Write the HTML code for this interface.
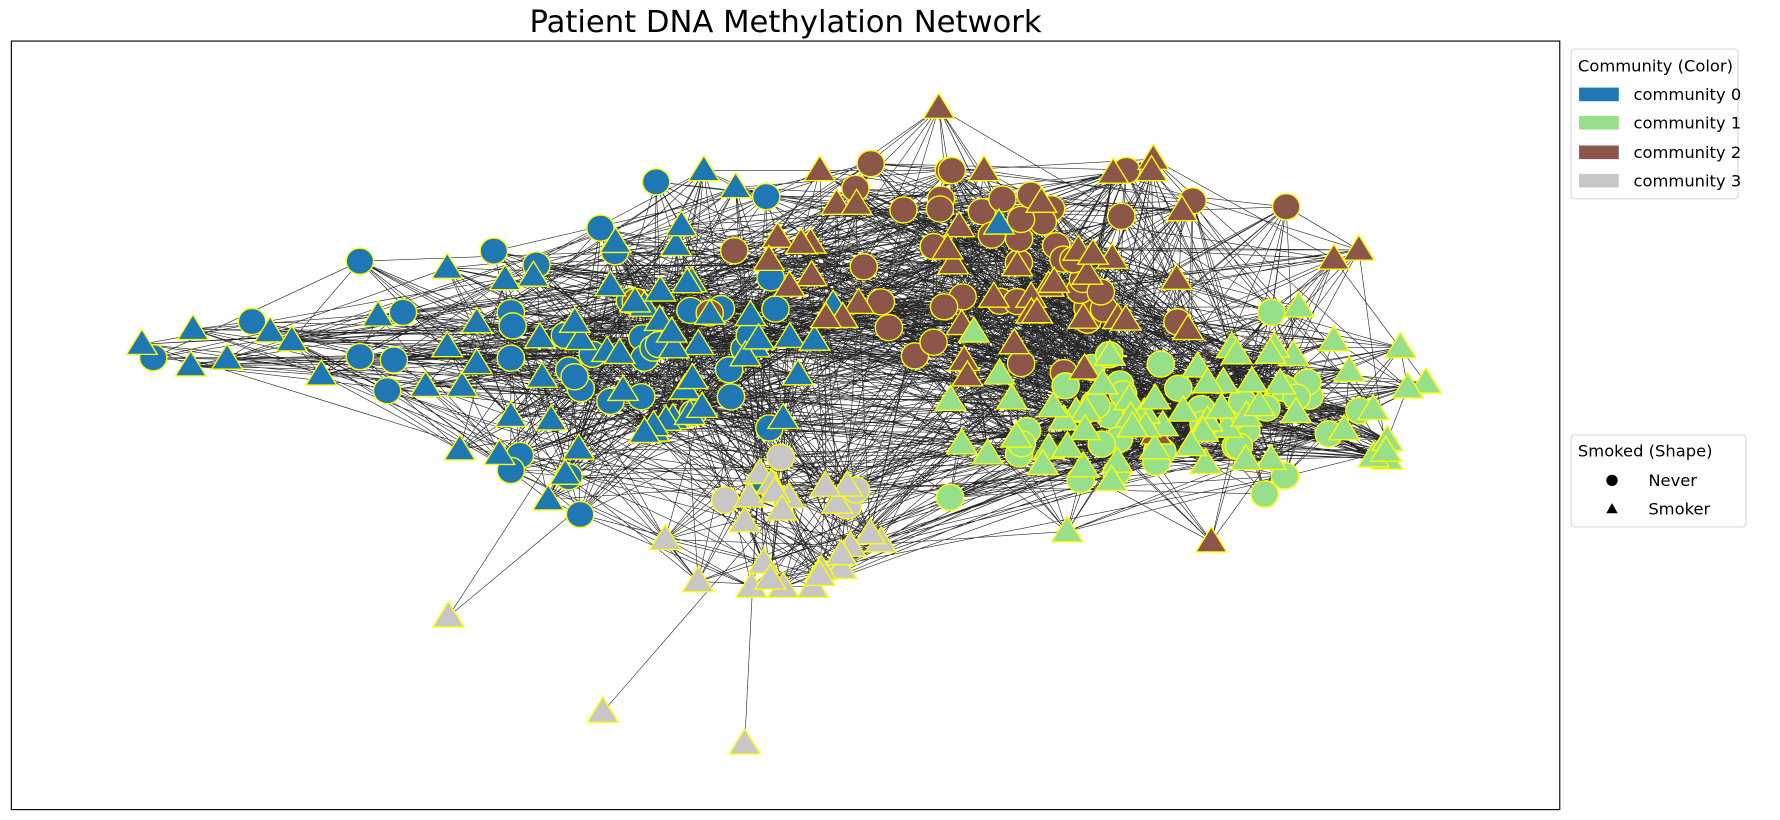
<!DOCTYPE html>
<html><head><meta charset="utf-8">
<style>
html,body{margin:0;padding:0;background:#fff;width:1780px;height:820px;overflow:hidden}
svg{display:block}
text{font-family:"DejaVu Sans","Liberation Sans",sans-serif;fill:#000}
</style></head>
<body>
<svg id="s" width="1780" height="820" viewBox="0 0 1568 722" xmlns="http://www.w3.org/2000/svg">
<rect x="0" y="0" width="1568" height="722" fill="#fff"/>
<text x="692" y="28" font-size="27" text-anchor="middle">Patient DNA Methylation Network</text>
<g id="edges" stroke="#000" stroke-width="0.55" stroke-opacity="0.85" fill="none"></g>
<g id="nodes" stroke="#ffff00" stroke-width="1.2"></g>
<rect x="10" y="36" width="1364" height="677" fill="none" stroke="#000" stroke-width="1"/>
<g font-size="14.4">
<rect x="1384" y="43" width="147" height="132" rx="3" fill="#fff" stroke="#d9d9d9" stroke-width="1"/>
<text x="1390" y="63">Community (Color)</text>
<rect x="1391" y="77" width="35" height="12" fill="#1f77b4"/>
<text x="1439" y="88">community 0</text>
<rect x="1391" y="102" width="35" height="12" fill="#98df8a"/>
<text x="1439" y="113">community 1</text>
<rect x="1391" y="128" width="35" height="12" fill="#8c564b"/>
<text x="1439" y="139">community 2</text>
<rect x="1391" y="153" width="35" height="12" fill="#c7c7c7"/>
<text x="1439" y="164">community 3</text>
<rect x="1384" y="383" width="154" height="81" rx="3" fill="#fff" stroke="#d9d9d9" stroke-width="1"/>
<text x="1390" y="402">Smoked (Shape)</text>
<circle cx="1420" cy="423" r="5" fill="#000"/>
<text x="1452" y="428">Never</text>
<polygon points="1420,443 1425,452 1415,452" fill="#000"/>
<text x="1452" y="453">Smoker</text>
</g>
</svg>
<script>
(function(){
var seed=12345;
function rnd(){seed|=0;seed=seed+0x6D2B79F5|0;var t=Math.imul(seed^seed>>>15,1|seed);t=t+Math.imul(t^t>>>7,61|t)^t;return((t^t>>>14)>>>0)/4294967296;}
function gauss(){return (rnd()+rnd()+rnd()+rnd()-2)*1.7;}
var col=['#1f77b4','#98df8a','#8c564b','#c7c7c7'];
var N=[];
function add(x,y,c,t,w){N.push({x:x,y:y,c:c,t:t,w:w});}
[[125,303,1],[135,315,0],[170,290,1],[168,322,1],[200,316,1],[222,283,0],[238,292,1],[257,300,1],[283,330,1],[317,230,0],[317,314,0],[341,344,0],[347,317,0],[355,275,0],[333,278,1],[394,236,1],[435,221,0],[445,246,1],[405,396,1],[440,400,1],[458,401,0],[483,440,1],[511,453,0],[375,340,1],[407,340,1],[394,305,1],[420,284,1],[420,320,1]].forEach(function(a){add(a[0],a[1],0,a[2],6);});
[[827,95,2,1],[767,144,2,0],[1016,140,2,1],[1133,182,2,0],[1197,220,2,1],[1175,228,2,1],[1067,477,2,1],[940,468,1,1],[1256,337,1,1],[1222,404,1,1],[1210,402,1,1],[1120,275,1,0],[1144,270,1,1],[578,160,0,0],[620,150,0,1],[675,173,0,0],[880,197,0,1]].forEach(function(a){add(a[0],a[1],a[2],a[3],8);});
[[395,543,3,1,2],[531,627,3,1,1],[656,655,3,1,1]].forEach(function(a){add(a[0],a[1],a[2],a[3],a[4]);});
[[586,475,3,1],[615,512,3,1],[662,517,3,1],[690,517,3,1],[716,517,3,1],[738,497,3,1],[776,477,3,1],[674,424,0,0],[1114,435,1,0],[837,438,1,0]].forEach(function(a){add(a[0],a[1],a[2],a[3],6);});
function cluster(cx,cy,sx,sy,n,c,x0,x1,y0,y1,pt,w){for(var i=0;i<n;i++){var x=cx+gauss()*sx,y=cy+gauss()*sy;x=Math.max(x0,Math.min(x1,x));y=Math.max(y0,Math.min(y1,y));add(x,y,c,rnd()<pt?1:0,w);}}
cluster(560,300,75,55,75,0,450,770,165,450,0.55,9);
cluster(870,245,120,55,85,2,560,1150,150,420,0.55,9);
cluster(1040,360,110,35,95,1,740,1240,270,465,0.6,9);
cluster(700,450,45,30,22,3,600,790,380,510,0.9,5);
var E=[];
for(var i=0;i<N.length;i++){
 var k=0,tries=0,want=N[i].w,low=want<3;
 while(k<want&&tries<600){tries++;var j=Math.floor(rnd()*N.length);if(j===i)continue;
  if(N[j].w<3)continue;
  var dx=N[i].x-N[j].x,dy=N[i].y-N[j].y,d=Math.sqrt(dx*dx+dy*dy);
  var p=Math.exp(-d/190)*(N[i].c===N[j].c?1:0.55);
  if(i<28&&N[j].c===0)p=Math.max(p,0.25);
  if(low)p=Math.exp(-d/120);
  if(rnd()<p){E.push([i,j]);k++;}}
}
var s='';
E.forEach(function(e){var a=N[e[0]],b=N[e[1]];s+='M'+a.x.toFixed(1)+' '+a.y.toFixed(1)+'L'+b.x.toFixed(1)+' '+b.y.toFixed(1);});
document.getElementById('edges').innerHTML='<path d="'+s+'"/>';
var h='';
N.forEach(function(n){if(n.t===0)h+='<ellipse cx="'+n.x.toFixed(1)+'" cy="'+n.y.toFixed(1)+'" rx="12" ry="11.5" fill="'+col[n.c]+'"/>';});
N.forEach(function(n){if(n.t===1){var x=n.x,y=n.y;h+='<polygon points="'+x.toFixed(1)+','+(y-13).toFixed(1)+' '+(x+13.5).toFixed(1)+','+(y+9).toFixed(1)+' '+(x-13.5).toFixed(1)+','+(y+9).toFixed(1)+'" fill="'+col[n.c]+'"/>';}});
document.getElementById('nodes').innerHTML=h;
})();
</script>
</body></html>
